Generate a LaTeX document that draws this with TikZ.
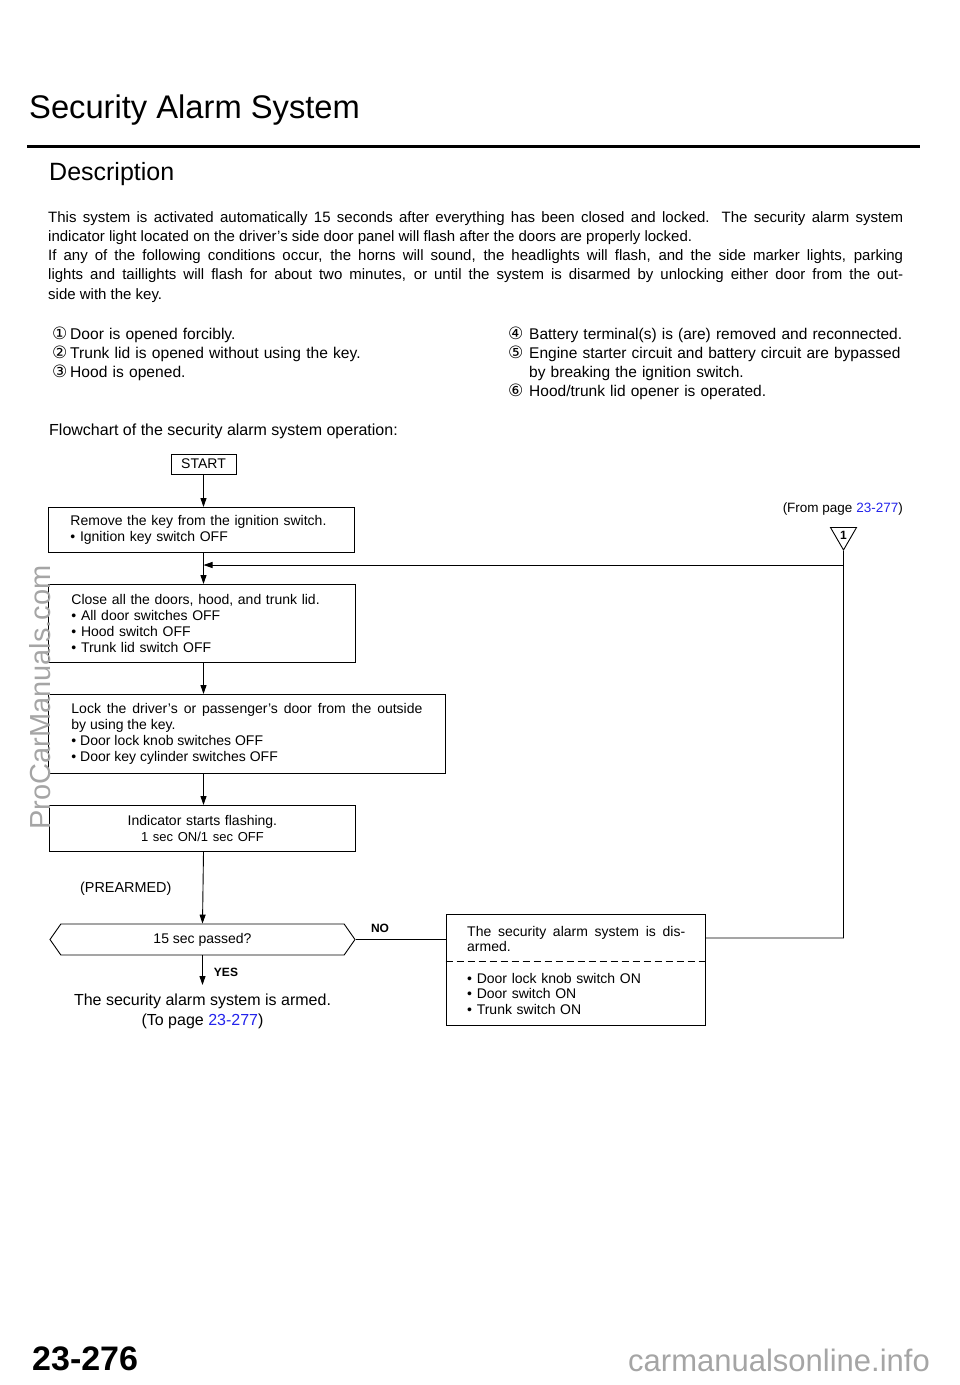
\documentclass[tikz,border=0pt]{standalone}
\usepackage{fontspec}
\setmainfont{Liberation Sans}
\newfontfamily\symfont{DejaVu Sans}
\usetikzlibrary{arrows.meta,shapes.geometric,shapes.symbols}
\definecolor{linkblue}{RGB}{35,35,235}
\definecolor{markgray}{RGB}{165,165,165}
\newcommand{\fs}[2]{\fontsize{#1}{#2}\selectfont}
\newcommand{\cnum}[2][18pt]{\makebox[#1][l]{\symfont\fs{17}{17}#2}}
\newcommand{\bul}{\textbullet\ }
\tikzset{
  box/.style={draw, line width=0.9pt, anchor=north west, inner ysep=0pt, font=\fs{14}{16}, align=left},
  txt/.style={anchor=base west, inner sep=0pt, font=\fs{15}{19.3}, align=left},
  arr/.style={line width=0.9pt, -{Triangle[length=9pt,width=6pt]}},
  flow/.style={line width=0.9pt},
}
\begin{document}
\begin{tikzpicture}[x=1pt, y=-1pt]
  \useasboundingbox (0,0) rectangle (960,1385);
  % Heading
  \node[txt, font=\fs{32.7}{33}] (title) at (29,118) {Security Alarm System};
  \draw[line width=3pt] (27,146) -- (920,146);
  \node[txt, font=\fs{25}{25}] (desc) at (49,180) {Description};
  \node[txt, text width=855pt, align=justify] (para) at (48,222)
    {This system is activated automatically 15 seconds after everything has been closed and locked. The security alarm system\linebreak
     indicator light located on the driver's side door panel will flash after the doors are properly locked.\\
     If any of the following conditions occur, the horns will sound, the headlights will flash, and the side marker lights, parking\linebreak
     lights and taillights will flash for about two minutes, or until the system is disarmed by unlocking either door from the out-\linebreak
     side with the key.};
  \node[txt, font=\fs{15.6}{19.3}, text width=420pt] (listl) at (52,339)
    {\cnum{①}Door is opened forcibly.\\
     \cnum{②}Trunk lid is opened without using the key.\\
     \cnum{③}Hood is opened.};
  \node[txt, font=\fs{15.5}{19.3}, text width=420pt] (listr) at (508,339)
    {\cnum[21pt]{④}Battery terminal(s) is (are) removed and reconnected.\\
     \cnum[21pt]{⑤}Engine starter circuit and battery circuit are bypassed\\
     \hspace*{21pt}by breaking the ignition switch.\\
     \cnum[21pt]{⑥}Hood/trunk lid opener is operated.};
  \node[txt, font=\fs{16}{19.3}] (chart) at (49,435) {Flowchart of the security alarm system operation:};

  % Nodes
  \node[draw, line width=0.9pt, minimum width=65pt, minimum height=20pt, inner sep=0pt, font=\fs{14}{16}] (start) at (203.5,464) {START};
  \node[box, inner xsep=22pt, text width=262pt, minimum height=45pt] (key) at (48,507)
    {Remove the key from the ignition switch.\\ \bul Ignition key switch OFF};
  \node[box, inner xsep=23pt, text width=261pt, minimum height=78pt] (close) at (48,584)
    {Close all the doors, hood, and trunk lid.\\ \bul All door switches OFF\\ \bul Hood switch OFF\\ \bul Trunk lid switch OFF};
  \node[box, inner xsep=23pt, text width=351pt, minimum height=79pt, align=justify] (lock) at (48,694)
    {Lock the driver's or passenger's door from the outside\linebreak by using the key.\\ \bul Door lock knob switches OFF\\ \bul Door key cylinder switches OFF};
  \node[box, inner xsep=20pt, text width=266pt, minimum height=46pt, align=center] (flash) at (49,805)
    {Indicator starts flashing.\\ {\fs{13}{16}1 sec ON/1 sec OFF}};
  \node[txt, font=\fs{14.4}{16}] (pre) at (80,892) {(PREARMED)};
  \node[draw, line width=0.9pt, signal, signal to=west and east, signal pointer angle=110, minimum width=305pt, minimum height=31pt, inner sep=0pt, font=\fs{14}{16}] (passed) at (202.5,939.5) {15 sec passed?};
  \node[font=\bfseries\fs{12}{12}, inner sep=0pt] (no) at (380,928) {NO};
  \node[font=\bfseries\fs{12}{12}, inner sep=0pt] (yes) at (226,972) {YES};
  \node[anchor=north, inner xsep=0pt, inner ysep=9pt, font=\fs{16}{20}, align=center] (armed) at (202.5,985)
    {The security alarm system is armed.\\ (To page \textcolor{linkblue}{23-277})};
  \node[draw, line width=0.9pt, minimum width=259pt, minimum height=111pt, inner sep=0pt] (disarm) at (575.5,969.5) {};
  \node[txt, font=\fs{14}{15}, text width=218pt, align=justify] (distop) at (467,936)
    {The security alarm system is dis-\linebreak armed.};
  \node[txt, font=\fs{14}{15.5}, text width=220pt] (disbot) at (467,983)
    {\bul Door lock knob switch ON\\ \bul Door switch ON\\ \bul Trunk switch ON};
  \node[anchor=base east, inner sep=0pt, font=\fs{13.5}{14}] (from) at (903,512.5)
    {(From page \textcolor{linkblue}{23-277})};
  \node[draw, line width=0.9pt, regular polygon, regular polygon sides=3, shape border rotate=180, minimum size=30pt, inner sep=0pt, font=\bfseries\fs{12}{12}] (tri) at (843.5,535) {\raisebox{-2pt}{1}};
  \coordinate (join) at (203.5,565);
  \coordinate (back) at (843.5,938);
  \coordinate (cut) at (0,961);

  % Edges
  \draw[arr] (start.south) -- (start.south |- key.north);
  \draw[arr] (start.south |- key.south) -- (start.south |- close.north);
  \draw[arr] (start.south |- close.south) -- (start.south |- lock.north);
  \draw[arr] (start.south |- lock.south) -- (start.south |- flash.north);
  \draw[arr] (start.south |- flash.south) -- (passed.north);
  \draw[arr] (passed.south) -- (armed.north);
  \draw[flow] (passed.east) -- (passed.east -| disarm.west);
  \draw[flow] (disarm.east |- back) -- (back) -- (tri.south);
  \draw[arr] (tri.south |- join) -- (join);
  \draw[line width=0.9pt, dash pattern=on 7pt off 4pt] (disarm.west |- cut) -- (disarm.east |- cut);

  % Page marks
  \node[anchor=base west, inner sep=0pt, font=\bfseries\fs{34}{34}] (page) at (32,1370) {23-276};
  \node[anchor=base east, inner sep=0pt, font=\fs{31}{31}, text=markgray] (site) at (930,1371) {carmanualsonline.info};
  \node[rotate=90, anchor=base west, inner sep=0pt, font=\fs{29}{29}, text=markgray] (wm) at (50,830) {ProCarManuals.com};
\end{tikzpicture}
\end{document}
